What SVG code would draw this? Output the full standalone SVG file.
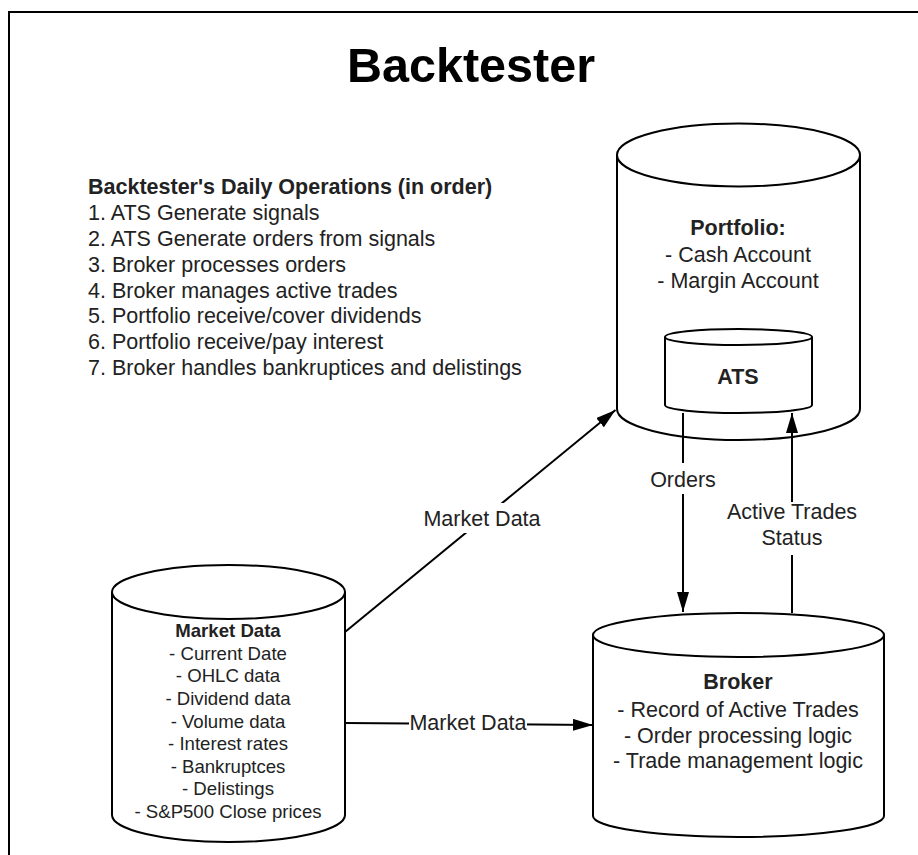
<svg xmlns="http://www.w3.org/2000/svg" width="918" height="855" viewBox="0 0 918 855">
  <style>
    .shape { fill: #ffffff; stroke: #000000; stroke-width: 2; }
    .edge { fill: none; stroke: #000000; stroke-width: 2; }
    .lbl-bg { fill: #ffffff; stroke: none; }
    text { font-family: "Liberation Sans", Arial, sans-serif; fill: #222222; }
    .title { font-size: 48.5px; font-weight: bold; fill: #000000; text-anchor: middle; }
    .body { font-size: 21.5px; }
    .small { font-size: 18.6px; }
    .b { font-weight: bold; }
    .c { text-anchor: middle; }
  </style>
  <defs>
    <marker id="arrow" markerUnits="userSpaceOnUse" markerWidth="20" markerHeight="12" refX="20" refY="6" orient="auto">
      <path d="M0,0 L20,6 L0,12 Z" fill="#000000"/>
    </marker>
  </defs>

  <rect width="918" height="855" fill="#ffffff"/>

  <!-- outer frame (open on the right and bottom) -->
  <path d="M9,855 V12 H918" fill="none" stroke="#000000" stroke-width="2"/>

  <text class="title" x="471" y="82">Backtester</text>

  <!-- operations list -->
  <g id="operations" class="body">
    <text x="88" y="194" class="b">Backtester's Daily Operations (in order)</text>
    <text x="88" y="220">1. ATS Generate signals</text>
    <text x="88" y="246">2. ATS Generate orders from signals</text>
    <text x="88" y="272">3. Broker processes orders</text>
    <text x="88" y="297.5">4. Broker manages active trades</text>
    <text x="88" y="323">5. Portfolio receive/cover dividends</text>
    <text x="88" y="349">6. Portfolio receive/pay interest</text>
    <text x="88" y="375">7. Broker handles bankruptices and delistings</text>
  </g>

  <!-- Portfolio cylinder -->
  <g id="portfolio">
    <path class="shape" d="M617,155 V409 A121.5,31 0 0 0 860,409 V155"/>
    <ellipse class="shape" cx="738.5" cy="155" rx="121.5" ry="31.5"/>
    <text class="body b c" x="738" y="235">Portfolio:</text>
    <text class="body c" x="738" y="262">- Cash Account</text>
    <text class="body c" x="738" y="288">- Margin Account</text>
  </g>

  <!-- ATS cylinder nested in the portfolio -->
  <g id="ats">
    <path class="shape" d="M665,337 V405 A73.5,8 0 0 0 812,405 V337"/>
    <ellipse class="shape" cx="738.5" cy="337" rx="73.5" ry="8"/>
    <text class="body b c" x="738" y="384">ATS</text>
  </g>

  <!-- Market Data cylinder -->
  <g id="market-data">
    <path class="shape" d="M112,592 V815 A116.5,27 0 0 0 345,815 V592"/>
    <ellipse class="shape" cx="228.5" cy="592" rx="116.5" ry="27"/>
    <g class="small">
      <text class="b c" x="228" y="637">Market Data</text>
      <text class="c" x="228" y="660">- Current Date</text>
      <text class="c" x="228" y="682">- OHLC data</text>
      <text class="c" x="228" y="705">- Dividend data</text>
      <text class="c" x="228" y="728">- Volume data</text>
      <text class="c" x="228" y="750">- Interest rates</text>
      <text class="c" x="228" y="773">- Bankruptces</text>
      <text class="c" x="228" y="795">- Delistings</text>
      <text class="c" x="228" y="818">- S&amp;P500 Close prices</text>
    </g>
  </g>

  <!-- Broker cylinder -->
  <g id="broker">
    <path class="shape" d="M593,635 V816 A145.5,21 0 0 0 884,816 V635"/>
    <ellipse class="shape" cx="738.5" cy="635" rx="145.5" ry="22"/>
    <text class="body b c" x="738" y="689">Broker</text>
    <text class="body c" x="738" y="717">- Record of Active Trades</text>
    <text class="body c" x="738" y="743">- Order processing logic</text>
    <text class="body c" x="738" y="768">- Trade management logic</text>
  </g>

  <!-- connectors -->
  <g id="connectors">
    <path class="edge" d="M345,632 L615.5,410" marker-end="url(#arrow)"/>
    <rect class="lbl-bg" x="420" y="503" width="124" height="30"/>
    <text class="body c" x="482" y="526">Market Data</text>

    <path class="edge" d="M345,723 L593,725" marker-end="url(#arrow)"/>
    <rect class="lbl-bg" x="409" y="710" width="118" height="26"/>
    <text class="body c" x="468" y="729.5">Market Data</text>

    <path class="edge" d="M683,413 L683,612" marker-end="url(#arrow)"/>
    <rect class="lbl-bg" x="648" y="463" width="70" height="31"/>
    <text class="body c" x="683" y="487">Orders</text>

    <path class="edge" d="M792,613 L792,413" marker-end="url(#arrow)"/>
    <rect class="lbl-bg" x="724" y="502" width="138" height="53"/>
    <text class="body c" x="792" y="519">Active Trades</text>
    <text class="body c" x="792" y="545">Status</text>
  </g>
</svg>
